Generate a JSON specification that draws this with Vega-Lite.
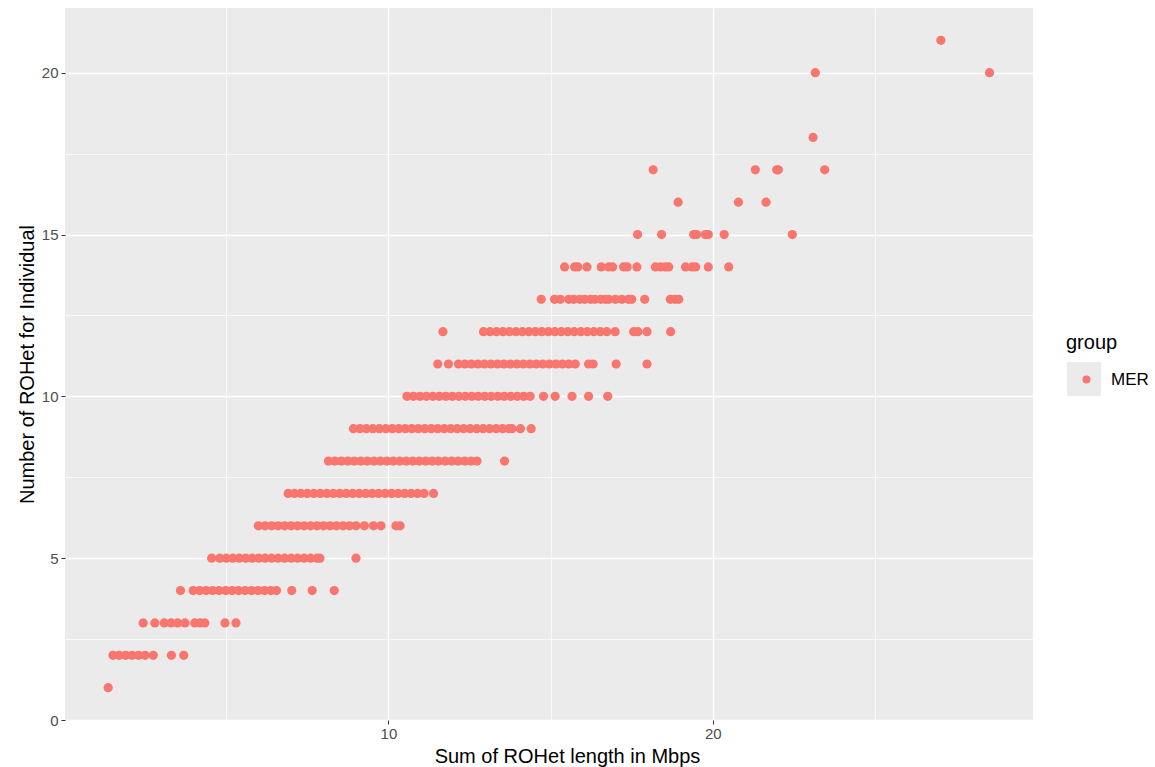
{
  "$schema": "https://vega.github.io/schema/vega-lite/v6.json",
  "width": 968,
  "height": 712,
  "autosize": {"type": "none"},
  "padding": {"left": 65, "top": 8, "right": 122, "bottom": 47},
  "background": "white",
  "config": {"view": {"fill": "#EBEBEB", "stroke": null}, "font": "Liberation Sans"},
  "datasets": {
    "rohet": [
      {"sum":1.36,"n":1,"group":"MER"},
      {"sum":1.51,"n":2,"group":"MER"},{"sum":1.7,"n":2,"group":"MER"},{"sum":1.9,"n":2,"group":"MER"},{"sum":2.1,"n":2,"group":"MER"},{"sum":2.3,"n":2,"group":"MER"},{"sum":2.5,"n":2,"group":"MER"},{"sum":2.75,"n":2,"group":"MER"},{"sum":3.31,"n":2,"group":"MER"},{"sum":3.69,"n":2,"group":"MER"},
      {"sum":2.44,"n":3,"group":"MER"},{"sum":2.8,"n":3,"group":"MER"},{"sum":3.09,"n":3,"group":"MER"},{"sum":3.3,"n":3,"group":"MER"},{"sum":3.5,"n":3,"group":"MER"},{"sum":3.73,"n":3,"group":"MER"},{"sum":4.03,"n":3,"group":"MER"},{"sum":4.2,"n":3,"group":"MER"},{"sum":4.34,"n":3,"group":"MER"},{"sum":4.96,"n":3,"group":"MER"},{"sum":5.3,"n":3,"group":"MER"},
      {"sum":3.59,"n":4,"group":"MER"},{"sum":3.98,"n":4,"group":"MER"},{"sum":4.18,"n":4,"group":"MER"},{"sum":4.38,"n":4,"group":"MER"},{"sum":4.58,"n":4,"group":"MER"},{"sum":4.78,"n":4,"group":"MER"},{"sum":4.98,"n":4,"group":"MER"},{"sum":5.18,"n":4,"group":"MER"},{"sum":5.38,"n":4,"group":"MER"},{"sum":5.58,"n":4,"group":"MER"},{"sum":5.78,"n":4,"group":"MER"},{"sum":5.98,"n":4,"group":"MER"},{"sum":6.18,"n":4,"group":"MER"},{"sum":6.38,"n":4,"group":"MER"},{"sum":6.55,"n":4,"group":"MER"},{"sum":7.02,"n":4,"group":"MER"},{"sum":7.65,"n":4,"group":"MER"},{"sum":8.33,"n":4,"group":"MER"},
      {"sum":4.55,"n":5,"group":"MER"},{"sum":4.8,"n":5,"group":"MER"},{"sum":5.0,"n":5,"group":"MER"},{"sum":5.2,"n":5,"group":"MER"},{"sum":5.4,"n":5,"group":"MER"},{"sum":5.6,"n":5,"group":"MER"},{"sum":5.8,"n":5,"group":"MER"},{"sum":6.0,"n":5,"group":"MER"},{"sum":6.2,"n":5,"group":"MER"},{"sum":6.4,"n":5,"group":"MER"},{"sum":6.6,"n":5,"group":"MER"},{"sum":6.8,"n":5,"group":"MER"},{"sum":7.0,"n":5,"group":"MER"},{"sum":7.2,"n":5,"group":"MER"},{"sum":7.4,"n":5,"group":"MER"},{"sum":7.6,"n":5,"group":"MER"},{"sum":7.8,"n":5,"group":"MER"},{"sum":7.89,"n":5,"group":"MER"},{"sum":9.0,"n":5,"group":"MER"},
      {"sum":5.99,"n":6,"group":"MER"},{"sum":6.2,"n":6,"group":"MER"},{"sum":6.4,"n":6,"group":"MER"},{"sum":6.6,"n":6,"group":"MER"},{"sum":6.8,"n":6,"group":"MER"},{"sum":7.0,"n":6,"group":"MER"},{"sum":7.2,"n":6,"group":"MER"},{"sum":7.4,"n":6,"group":"MER"},{"sum":7.6,"n":6,"group":"MER"},{"sum":7.8,"n":6,"group":"MER"},{"sum":8.0,"n":6,"group":"MER"},{"sum":8.2,"n":6,"group":"MER"},{"sum":8.4,"n":6,"group":"MER"},{"sum":8.6,"n":6,"group":"MER"},{"sum":8.8,"n":6,"group":"MER"},{"sum":9.0,"n":6,"group":"MER"},{"sum":9.26,"n":6,"group":"MER"},{"sum":9.54,"n":6,"group":"MER"},{"sum":9.77,"n":6,"group":"MER"},{"sum":10.23,"n":6,"group":"MER"},{"sum":10.36,"n":6,"group":"MER"},
      {"sum":6.91,"n":7,"group":"MER"},{"sum":7.1,"n":7,"group":"MER"},{"sum":7.3,"n":7,"group":"MER"},{"sum":7.5,"n":7,"group":"MER"},{"sum":7.7,"n":7,"group":"MER"},{"sum":7.9,"n":7,"group":"MER"},{"sum":8.1,"n":7,"group":"MER"},{"sum":8.3,"n":7,"group":"MER"},{"sum":8.5,"n":7,"group":"MER"},{"sum":8.7,"n":7,"group":"MER"},{"sum":8.9,"n":7,"group":"MER"},{"sum":9.1,"n":7,"group":"MER"},{"sum":9.3,"n":7,"group":"MER"},{"sum":9.5,"n":7,"group":"MER"},{"sum":9.7,"n":7,"group":"MER"},{"sum":9.9,"n":7,"group":"MER"},{"sum":10.1,"n":7,"group":"MER"},{"sum":10.3,"n":7,"group":"MER"},{"sum":10.5,"n":7,"group":"MER"},{"sum":10.7,"n":7,"group":"MER"},{"sum":10.9,"n":7,"group":"MER"},{"sum":11.1,"n":7,"group":"MER"},{"sum":11.39,"n":7,"group":"MER"},
      {"sum":8.15,"n":8,"group":"MER"},{"sum":8.35,"n":8,"group":"MER"},{"sum":8.55,"n":8,"group":"MER"},{"sum":8.75,"n":8,"group":"MER"},{"sum":8.95,"n":8,"group":"MER"},{"sum":9.15,"n":8,"group":"MER"},{"sum":9.35,"n":8,"group":"MER"},{"sum":9.55,"n":8,"group":"MER"},{"sum":9.75,"n":8,"group":"MER"},{"sum":9.95,"n":8,"group":"MER"},{"sum":10.15,"n":8,"group":"MER"},{"sum":10.35,"n":8,"group":"MER"},{"sum":10.55,"n":8,"group":"MER"},{"sum":10.75,"n":8,"group":"MER"},{"sum":10.95,"n":8,"group":"MER"},{"sum":11.15,"n":8,"group":"MER"},{"sum":11.35,"n":8,"group":"MER"},{"sum":11.54,"n":8,"group":"MER"},{"sum":11.75,"n":8,"group":"MER"},{"sum":11.95,"n":8,"group":"MER"},{"sum":12.15,"n":8,"group":"MER"},{"sum":12.35,"n":8,"group":"MER"},{"sum":12.55,"n":8,"group":"MER"},{"sum":12.73,"n":8,"group":"MER"},{"sum":13.58,"n":8,"group":"MER"},
      {"sum":8.92,"n":9,"group":"MER"},{"sum":9.12,"n":9,"group":"MER"},{"sum":9.32,"n":9,"group":"MER"},{"sum":9.52,"n":9,"group":"MER"},{"sum":9.72,"n":9,"group":"MER"},{"sum":9.92,"n":9,"group":"MER"},{"sum":10.12,"n":9,"group":"MER"},{"sum":10.32,"n":9,"group":"MER"},{"sum":10.52,"n":9,"group":"MER"},{"sum":10.72,"n":9,"group":"MER"},{"sum":10.92,"n":9,"group":"MER"},{"sum":11.12,"n":9,"group":"MER"},{"sum":11.32,"n":9,"group":"MER"},{"sum":11.52,"n":9,"group":"MER"},{"sum":11.72,"n":9,"group":"MER"},{"sum":11.92,"n":9,"group":"MER"},{"sum":12.12,"n":9,"group":"MER"},{"sum":12.32,"n":9,"group":"MER"},{"sum":12.52,"n":9,"group":"MER"},{"sum":12.72,"n":9,"group":"MER"},{"sum":12.92,"n":9,"group":"MER"},{"sum":13.12,"n":9,"group":"MER"},{"sum":13.32,"n":9,"group":"MER"},{"sum":13.52,"n":9,"group":"MER"},{"sum":13.72,"n":9,"group":"MER"},{"sum":13.81,"n":9,"group":"MER"},{"sum":14.07,"n":9,"group":"MER"},{"sum":14.4,"n":9,"group":"MER"},
      {"sum":10.57,"n":10,"group":"MER"},{"sum":10.77,"n":10,"group":"MER"},{"sum":10.97,"n":10,"group":"MER"},{"sum":11.17,"n":10,"group":"MER"},{"sum":11.37,"n":10,"group":"MER"},{"sum":11.57,"n":10,"group":"MER"},{"sum":11.77,"n":10,"group":"MER"},{"sum":11.97,"n":10,"group":"MER"},{"sum":12.17,"n":10,"group":"MER"},{"sum":12.37,"n":10,"group":"MER"},{"sum":12.57,"n":10,"group":"MER"},{"sum":12.77,"n":10,"group":"MER"},{"sum":12.97,"n":10,"group":"MER"},{"sum":13.17,"n":10,"group":"MER"},{"sum":13.37,"n":10,"group":"MER"},{"sum":13.57,"n":10,"group":"MER"},{"sum":13.77,"n":10,"group":"MER"},{"sum":13.97,"n":10,"group":"MER"},{"sum":14.17,"n":10,"group":"MER"},{"sum":14.37,"n":10,"group":"MER"},{"sum":14.78,"n":10,"group":"MER"},{"sum":15.14,"n":10,"group":"MER"},{"sum":15.66,"n":10,"group":"MER"},{"sum":16.17,"n":10,"group":"MER"},{"sum":16.76,"n":10,"group":"MER"},
      {"sum":11.52,"n":11,"group":"MER"},{"sum":11.85,"n":11,"group":"MER"},{"sum":12.16,"n":11,"group":"MER"},{"sum":12.36,"n":11,"group":"MER"},{"sum":12.56,"n":11,"group":"MER"},{"sum":12.76,"n":11,"group":"MER"},{"sum":12.96,"n":11,"group":"MER"},{"sum":13.16,"n":11,"group":"MER"},{"sum":13.36,"n":11,"group":"MER"},{"sum":13.56,"n":11,"group":"MER"},{"sum":13.76,"n":11,"group":"MER"},{"sum":13.96,"n":11,"group":"MER"},{"sum":14.16,"n":11,"group":"MER"},{"sum":14.36,"n":11,"group":"MER"},{"sum":14.56,"n":11,"group":"MER"},{"sum":14.76,"n":11,"group":"MER"},{"sum":14.96,"n":11,"group":"MER"},{"sum":15.16,"n":11,"group":"MER"},{"sum":15.36,"n":11,"group":"MER"},{"sum":15.56,"n":11,"group":"MER"},{"sum":15.76,"n":11,"group":"MER"},{"sum":16.17,"n":11,"group":"MER"},{"sum":16.31,"n":11,"group":"MER"},{"sum":17.02,"n":11,"group":"MER"},{"sum":17.97,"n":11,"group":"MER"},
      {"sum":11.68,"n":12,"group":"MER"},{"sum":12.93,"n":12,"group":"MER"},{"sum":13.13,"n":12,"group":"MER"},{"sum":13.33,"n":12,"group":"MER"},{"sum":13.53,"n":12,"group":"MER"},{"sum":13.73,"n":12,"group":"MER"},{"sum":13.93,"n":12,"group":"MER"},{"sum":14.13,"n":12,"group":"MER"},{"sum":14.33,"n":12,"group":"MER"},{"sum":14.53,"n":12,"group":"MER"},{"sum":14.73,"n":12,"group":"MER"},{"sum":14.93,"n":12,"group":"MER"},{"sum":15.13,"n":12,"group":"MER"},{"sum":15.33,"n":12,"group":"MER"},{"sum":15.53,"n":12,"group":"MER"},{"sum":15.73,"n":12,"group":"MER"},{"sum":15.93,"n":12,"group":"MER"},{"sum":16.13,"n":12,"group":"MER"},{"sum":16.33,"n":12,"group":"MER"},{"sum":16.53,"n":12,"group":"MER"},{"sum":16.73,"n":12,"group":"MER"},{"sum":16.99,"n":12,"group":"MER"},{"sum":17.56,"n":12,"group":"MER"},{"sum":17.69,"n":12,"group":"MER"},{"sum":17.97,"n":12,"group":"MER"},{"sum":18.7,"n":12,"group":"MER"},
      {"sum":14.71,"n":13,"group":"MER"},{"sum":15.12,"n":13,"group":"MER"},{"sum":15.3,"n":13,"group":"MER"},{"sum":15.56,"n":13,"group":"MER"},{"sum":15.71,"n":13,"group":"MER"},{"sum":15.9,"n":13,"group":"MER"},{"sum":16.05,"n":13,"group":"MER"},{"sum":16.23,"n":13,"group":"MER"},{"sum":16.36,"n":13,"group":"MER"},{"sum":16.55,"n":13,"group":"MER"},{"sum":16.69,"n":13,"group":"MER"},{"sum":16.79,"n":13,"group":"MER"},{"sum":17.0,"n":13,"group":"MER"},{"sum":17.2,"n":13,"group":"MER"},{"sum":17.4,"n":13,"group":"MER"},{"sum":17.5,"n":13,"group":"MER"},{"sum":17.9,"n":13,"group":"MER"},{"sum":18.69,"n":13,"group":"MER"},{"sum":18.83,"n":13,"group":"MER"},{"sum":18.95,"n":13,"group":"MER"},
      {"sum":15.43,"n":14,"group":"MER"},{"sum":15.74,"n":14,"group":"MER"},{"sum":15.84,"n":14,"group":"MER"},{"sum":16.12,"n":14,"group":"MER"},{"sum":16.56,"n":14,"group":"MER"},{"sum":16.79,"n":14,"group":"MER"},{"sum":16.91,"n":14,"group":"MER"},{"sum":17.25,"n":14,"group":"MER"},{"sum":17.36,"n":14,"group":"MER"},{"sum":17.66,"n":14,"group":"MER"},{"sum":18.23,"n":14,"group":"MER"},{"sum":18.39,"n":14,"group":"MER"},{"sum":18.54,"n":14,"group":"MER"},{"sum":18.64,"n":14,"group":"MER"},{"sum":19.16,"n":14,"group":"MER"},{"sum":19.36,"n":14,"group":"MER"},{"sum":19.47,"n":14,"group":"MER"},{"sum":19.86,"n":14,"group":"MER"},{"sum":20.49,"n":14,"group":"MER"},
      {"sum":17.68,"n":15,"group":"MER"},{"sum":18.42,"n":15,"group":"MER"},{"sum":19.41,"n":15,"group":"MER"},{"sum":19.5,"n":15,"group":"MER"},{"sum":19.77,"n":15,"group":"MER"},{"sum":19.86,"n":15,"group":"MER"},{"sum":20.35,"n":15,"group":"MER"},{"sum":22.45,"n":15,"group":"MER"},
      {"sum":18.93,"n":16,"group":"MER"},{"sum":20.79,"n":16,"group":"MER"},{"sum":21.64,"n":16,"group":"MER"},
      {"sum":18.16,"n":17,"group":"MER"},{"sum":21.31,"n":17,"group":"MER"},{"sum":21.97,"n":17,"group":"MER"},{"sum":22.02,"n":17,"group":"MER"},{"sum":23.45,"n":17,"group":"MER"},
      {"sum":23.09,"n":18,"group":"MER"},
      {"sum":23.16,"n":20,"group":"MER"},{"sum":28.53,"n":20,"group":"MER"},
      {"sum":27.03,"n":21,"group":"MER"}
    ]
  },
  "data": {"name": "rohet"},
  "mark": {"type": "point", "filled": true, "opacity": 1, "size": 85, "strokeWidth": 0},
  "encoding": {
    "x": {
      "field": "sum",
      "type": "quantitative",
      "scale": {"domain": [0.03, 29.87], "nice": false, "zero": false},
      "axis": {
        "values": [5, 10, 15, 20, 25],
        "title": "Sum of ROHet length in Mbps",
        "labelExpr": "datum.value % 10 == 0 ? datum.label : ''",
        "domain": false,
        "gridColor": "white",
        "gridWidth": {"condition": {"test": "datum.value % 10 == 0", "value": 1.4}, "value": 0.7},
        "tickOpacity": {"condition": {"test": "datum.value % 10 == 0", "value": 1}, "value": 0},
        "tickColor": "#333333",
        "tickSize": 4,
        "labelColor": "#4D4D4D",
        "labelFontSize": 15,
        "labelPadding": 2,
        "titleFontSize": 20,
        "titleFontWeight": "normal",
        "titleColor": "black",
        "titlePadding": 5,
        "titleX": 502
      }
    },
    "y": {
      "field": "n",
      "type": "quantitative",
      "scale": {"domain": [0, 22], "nice": false, "zero": false},
      "axis": {
        "values": [0, 2.5, 5, 7.5, 10, 12.5, 15, 17.5, 20],
        "title": "Number of ROHet for Individual",
        "labelExpr": "datum.value % 5 == 0 ? datum.label : ''",
        "domain": false,
        "gridColor": "white",
        "gridWidth": {"condition": {"test": "datum.value % 5 == 0", "value": 1.4}, "value": 0.7},
        "tickOpacity": {"condition": {"test": "datum.value % 5 == 0", "value": 1}, "value": 0},
        "tickColor": "#333333",
        "tickSize": 4,
        "labelColor": "#4D4D4D",
        "labelFontSize": 15,
        "labelPadding": 3,
        "titleFontSize": 20,
        "titleFontWeight": "normal",
        "titleColor": "black",
        "titlePadding": 4
      }
    },
    "color": {
      "field": "group",
      "type": "nominal",
      "scale": {"range": ["#F8766D"]},
      "legend": {
        "orient": "none",
        "legendX": 1001,
        "legendY": 325,
        "zindex": 2,
        "title": "group",
        "titleFontSize": 20,
        "titleFontWeight": "normal",
        "titleColor": "black",
        "titlePadding": 18,
        "labelFontSize": 17,
        "labelColor": "black",
        "labelOffset": 16,
        "symbolType": "circle",
        "symbolSize": 64,
        "symbolOffset": 12,
        "symbolOpacity": 1,
        "symbolStrokeWidth": 0
      }
    },
    "opacity": {
      "field": "group",
      "type": "nominal",
      "scale": {"range": [1]},
      "legend": {
        "orient": "right",
        "offset": 34,
        "zindex": 1,
        "title": " ",
        "titleFontSize": 20,
        "titlePadding": 334,
        "labelExpr": "''",
        "labelFontSize": 17,
        "symbolType": "square",
        "symbolSize": 1156,
        "symbolOffset": 0,
        "symbolFillColor": "#EBEBEB",
        "symbolStrokeColor": "#EBEBEB",
        "symbolStrokeWidth": 0
      }
    }
  }
}
